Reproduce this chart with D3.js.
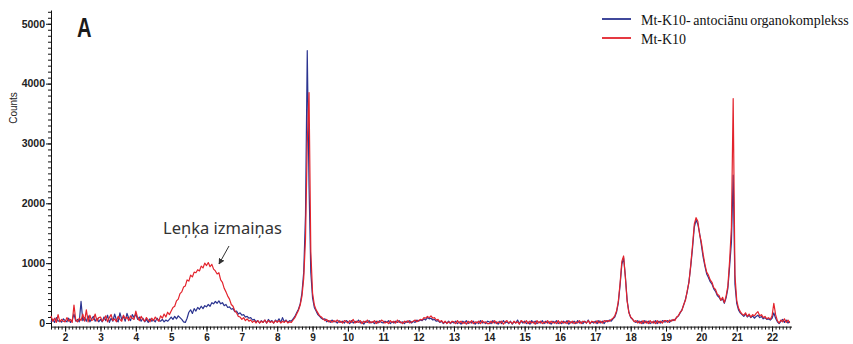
<!DOCTYPE html>
<html>
<head>
<meta charset="utf-8">
<script src="https://cdn.jsdelivr.net/npm/d3@7"></script>
<style>
	body { margin: 0; background: #fff; }
	svg { display: block; }
</style>
</head>
<body>
<svg id="chart"></svg>
<script>
// 2-theta starts at 1.6 deg, one reading every 0.05 deg
const startAngle = 1.6 ;
const angleStep = 0.05 ;

// Mt-K10- antociānu organokomplekss (counts)
const blueCounts = [
	20, 60, 10, 90, 30, 40, 15, 70,
	40, 20, 80, 10, 50, 150, 30, 60, 20, 360, 40, 90, 30, 120, 20, 70, 110, 30, 80, 20,
	60, 20, 100, 40, 130, 10, 80, 30, 150, 50, 20, 170, 60, 110, 30, 160, 80, 40, 140, 90,
	150, 60, 100, 30, 80, 20, 60, 10, 70, 30, 50, 20, 80, 40, 30, 60, 20, 50, 30, 60,
	100, 60, 110, 70, 120, 90, 60, 20, 10, 80, 180, 220, 160, 240, 200, 260, 230, 280, 240, 290,
	270, 310, 280, 340, 320, 360, 330, 370, 320, 340, 290, 310, 260, 270, 230, 240, 190, 200, 150, 170,
	130, 140, 100, 110, 80, 90, 50, 60, 20, 40, 0, 40, 10, 50, 0, 60, 20, 40, 0, 50,
	20, 70, 10, 90, 20, 50, 10, 40, 30, 70, 110, 170, 230, 320, 500, 850, 1800, 4550, 2300, 850,
	420, 260, 200, 140, 110, 80, 60, 70, 20, 40, 10, 50, 20, 30, 0, 40, 10, 30, 0, 40,
	20, -10, 40, 0, 30, 10, 50, 0, 20, -20, 30, 10, 40, 0, 20, -10, 30, 0, 40, 10,
	0, 30, 10, 40, -10, 20, 0, 30, 10, 40, 0, 20, -10, 30, 10, 40, 0, 30, 10, 50,
	30, 50, 40, 70, 50, 90, 70, 80, 50, 60, 30, 40, 10, 30, -10, 20, 0, 30, -10, 20,
	0, 30, -10, 20, -20, 30, 0, 40, -10, 20, 0, 30, -20, 20, -10, 40, 0, 20, -10, 30,
	20, -10, 40, 0, 20, -20, 30, -10, 40, 0, 20, -10, 30, -20, 20, 0, 50, -10, 30, 0,
	30, -10, 20, -20, 40, 0, 30, -10, 20, 0, 40, -10, 30, 0, 20, -20, 30, 0, 40, -10,
	20, -10, 30, 0, 40, -20, 20, 0, 30, -10, 40, 0, 20, -10, 30, 0, 50, -10, 20, 0,
	30, -10, 40, 0, 30, -10, 40, 20, 50, 30, 70, 100, 180, 330, 630, 980, 1090, 780, 380, 180,
	90, 60, 30, 10, 40, 0, 30, -10, 40, 0, 30, -10, 20, 0, 40, -10, 30, 0, 40, 20,
	20, 40, 10, 50, 40, 60, 90, 120, 170, 220, 300, 400, 520, 700, 950, 1250, 1600, 1720, 1650, 1500,
	1300, 1100, 950, 820, 760, 690, 650, 570, 530, 460, 430, 380, 400, 330, 420, 580, 950, 1350, 2470, 650,
	330, 220, 170, 140, 110, 150, 100, 130, 90, 120, 80, 110, 130, 90, 110, 70, 90, 60, 70, 50,
	80, 170, 80, 20, -10, 30, 60, 10, 50, 0, 30
] ;

// Mt-K10 (counts)
const redCounts = [
	120, 30, 80, 10, 140, 20, 60, 30,
	20, 90, 30, 60, 10, 300, 50, 20, 80, 40, 150, 30, 220, 20, 130, 40, 60, 150, 30, 90,
	100, 30, 60, 120, 20, 90, 140, 40, 70, 20, 110, 60, 30, 130, 70, 100, 40, 120, 80, 60,
	200, 90, 40, 110, 60, 30, 90, 50, 20, 80, 40, 100, 60, 30, 120, 80, 150, 100, 180, 140,
	200, 260, 280, 370, 400, 490, 520, 600, 620, 720, 700, 800, 770, 850, 840, 890, 870, 950, 920, 1000,
	960, 1010, 940, 980, 900, 870, 820, 840, 720, 680, 580, 520, 450, 400, 310, 280, 200, 170, 110, 100,
	60, 90, 40, 70, 30, 50, 10, 40, 0, 40, 0, 30, 10, 50, 0, 40, 10, 30, 0, 40,
	10, 40, 0, 30, 10, 40, 0, 20, 10, 50, 90, 150, 210, 300, 450, 750, 1400, 3000, 3850, 1200,
	500, 300, 220, 170, 120, 100, 70, 40, 60, 20, 40, 10, 40, 20, 50, 10, 30, 0, 40, 20,
	0, 40, 10, 60, 0, 30, 10, 40, -10, 30, 10, 50, 0, 20, 10, 40, -10, 30, 10, 50,
	30, 0, 20, -10, 40, 10, 30, 0, 50, 10, 20, -10, 30, 10, 40, 0, 20, 30, 50, 20,
	40, 60, 50, 90, 80, 110, 90, 120, 80, 90, 50, 60, 20, 40, 0, 30, -10, 20, 0, 30,
	20, -10, 40, 0, 30, -10, 20, -20, 30, 0, 40, -10, 20, 0, 30, -10, 40, 0, 20, -10,
	-10, 30, 0, 40, -10, 20, 0, 30, -20, 20, 40, 0, 20, -10, 30, 0, 20, -20, 40, 20,
	0, 40, -10, 30, 0, 20, -20, 40, 0, 30, -10, 20, 0, 40, -10, 30, 0, 20, -10, 40,
	-10, 30, 0, 20, -10, 40, 0, 30, -10, 20, 0, 40, -10, 30, 20, 0, 40, -10, 30, 20,
	0, 40, 0, 30, 0, 40, 20, 40, 30, 60, 80, 120, 200, 360, 660, 1030, 1120, 760, 360, 170,
	100, 70, 20, 40, 0, 30, -10, 40, 0, 30, -10, 40, 0, 30, -10, 40, 0, 30, 0, 40,
	40, 10, 50, 30, 60, 40, 100, 120, 180, 210, 310, 380, 540, 680, 980, 1300, 1650, 1760, 1700, 1480,
	1350, 1150, 980, 850, 800, 720, 680, 590, 560, 480, 460, 380, 430, 340, 450, 620, 1050, 1600, 3750, 800,
	380, 250, 190, 150, 130, 170, 110, 150, 100, 140, 120, 160, 190, 120, 140, 90, 110, 70, 90, 60,
	120, 330, 140, 40, 0, 50, 20, 70, 10, 50, 0
] ;

const seriesNames = [ 'Mt-K10- antociānu organokomplekss', 'Mt-K10' ] ;
const seriesColors = [ '#2b3490', '#e3232c' ] ;
const yTickValues = [ 0, 1000, 2000, 3000, 4000, 5000 ] ;
const xTickValues = d3.range( 2, 23 ) ;

let geom = { width: 853, height: 344 } ;

let svg = d3.select( '#chart' )
	.attr( 'width', geom.width )
	.attr( 'height', geom.height )
	.style( 'font-family', '"Liberation Sans", Arial, sans-serif' ) ;

let x = d3.scaleLinear()
	.domain( [ 1.6, 22.55 ] )
	.range( [ 51, 791.5 ] ) ;

let y = d3.scaleLinear()
	.domain( [ -60, 5230 ] )
	.range( [ 326.6, 10 ] ) ;

// minor ticks first, major axes drawn over them
svg.append( 'g' )
	.attr( 'transform', 'translate(0 ' + y(-60) + ')' )
	.call( d3.axisBottom(x).tickValues( d3.range( 16, 226 ).map( d => d / 10 ) ).tickSize(3).tickFormat('') )
	.call( g => g.select( '.domain' ).remove() ) ;

svg.append( 'g' )
	.attr( 'transform', 'translate(51 0)' )
	.call( d3.axisLeft(y).tickValues( d3.range( 0, 53 ).map( d => d * 100 ) ).tickSize(3).tickFormat('') )
	.call( g => g.select( '.domain' ).remove() ) ;

let xAxis = svg.append( 'g' )
	.attr( 'transform', 'translate(0 ' + y(-60) + ')' )
	.call( d3.axisBottom(x).tickValues( xTickValues ).tickSize(5).tickSizeOuter(0).tickFormat( d3.format('d') ) ) ;
xAxis.selectAll( 'text' )
	.attr( 'font-size', '10px' )
	.attr( 'font-weight', 'bold' )
	.attr( 'fill', '#222' )
	.attr( 'dy', '0.62em' ) ;

let yAxis = svg.append( 'g' )
	.attr( 'transform', 'translate(51 0)' )
	.call( d3.axisLeft(y).tickValues( yTickValues ).tickSize(5).tickSizeOuter(0).tickFormat( d3.format('d') ) ) ;
yAxis.selectAll( 'text' )
	.attr( 'font-size', '10.5px' )
	.attr( 'font-weight', 'bold' )
	.attr( 'fill', '#222' )
	.attr( 'x', -6 ) ;

svg.selectAll( '.domain, .tick line' ).attr( 'stroke', '#111' ) ;

svg.append( 'text' )
	.attr( 'transform', 'translate(17 108) rotate(-90)' )
	.attr( 'text-anchor', 'middle' )
	.attr( 'font-size', '10px' )
	.attr( 'fill', '#222' )
	.text( 'Counts' ) ;

// panel letter, narrow bold
svg.append( 'text' )
	.attr( 'transform', 'translate(77 37) scale(0.72 1)' )
	.attr( 'font-size', '28px' )
	.attr( 'font-weight', 'bold' )
	.attr( 'fill', '#1a1a1a' )
	.text( 'A' ) ;

let line = d3.line()
	.x( (v, i) => x( startAngle + i * angleStep ) )
	.y( v => y(v) ) ;

svg.selectAll( 'path.series' )
	.data( [ blueCounts, redCounts ] )
	.enter()
	.append( 'path' )
	.attr( 'class', 'series' )
	.attr( 'd', d => line(d) )
	.attr( 'fill', 'none' )
	.attr( 'stroke', (d, i) => seriesColors[i] )
	.attr( 'stroke-width', 1.2 )
	.attr( 'stroke-linejoin', 'round' ) ;

// legend
let legend = svg.selectAll( 'g.legend' )
	.data( seriesNames )
	.enter()
	.append( 'g' )
	.attr( 'class', 'legend' )
	.attr( 'transform', (d, i) => 'translate(602 ' + (19 + i * 19) + ')' ) ;

legend.append( 'line' )
	.attr( 'x1', 0 )
	.attr( 'x2', 29 )
	.attr( 'stroke', (d, i) => seriesColors[i] )
	.attr( 'stroke-width', 1.8 ) ;

legend.append( 'text' )
	.attr( 'x', 39 )
	.attr( 'y', 5.5 )
	.attr( 'font-family', '"Liberation Serif", "Times New Roman", serif' )
	.attr( 'font-size', '14px' )
	.attr( 'word-spacing', '-1px' )
	.attr( 'fill', '#111' )
	.text( d => d ) ;

// annotation
svg.append( 'defs' )
	.append( 'marker' )
	.attr( 'id', 'arrow' )
	.attr( 'viewBox', '0 0 10 10' )
	.attr( 'refX', 9 )
	.attr( 'refY', 5 )
	.attr( 'markerWidth', 6 )
	.attr( 'markerHeight', 6 )
	.attr( 'orient', 'auto' )
	.append( 'path' )
	.attr( 'd', 'M0,0 L10,5 L0,10 z' )
	.attr( 'fill', '#333' ) ;

svg.append( 'text' )
	.attr( 'x', 163 )
	.attr( 'y', 234 )
	.attr( 'font-family', '"Noto Sans", "Open Sans", sans-serif' )
	.attr( 'font-size', '16.5px' )
	.attr( 'fill', '#333' )
	.text( 'Leņķa izmaiņas' ) ;

svg.append( 'line' )
	.attr( 'x1', 229 )
	.attr( 'y1', 246 )
	.attr( 'x2', 219 )
	.attr( 'y2', 264 )
	.attr( 'stroke', '#333' )
	.attr( 'stroke-width', 1 )
	.attr( 'marker-end', 'url(#arrow)' ) ;
</script>
</body>
</html>
